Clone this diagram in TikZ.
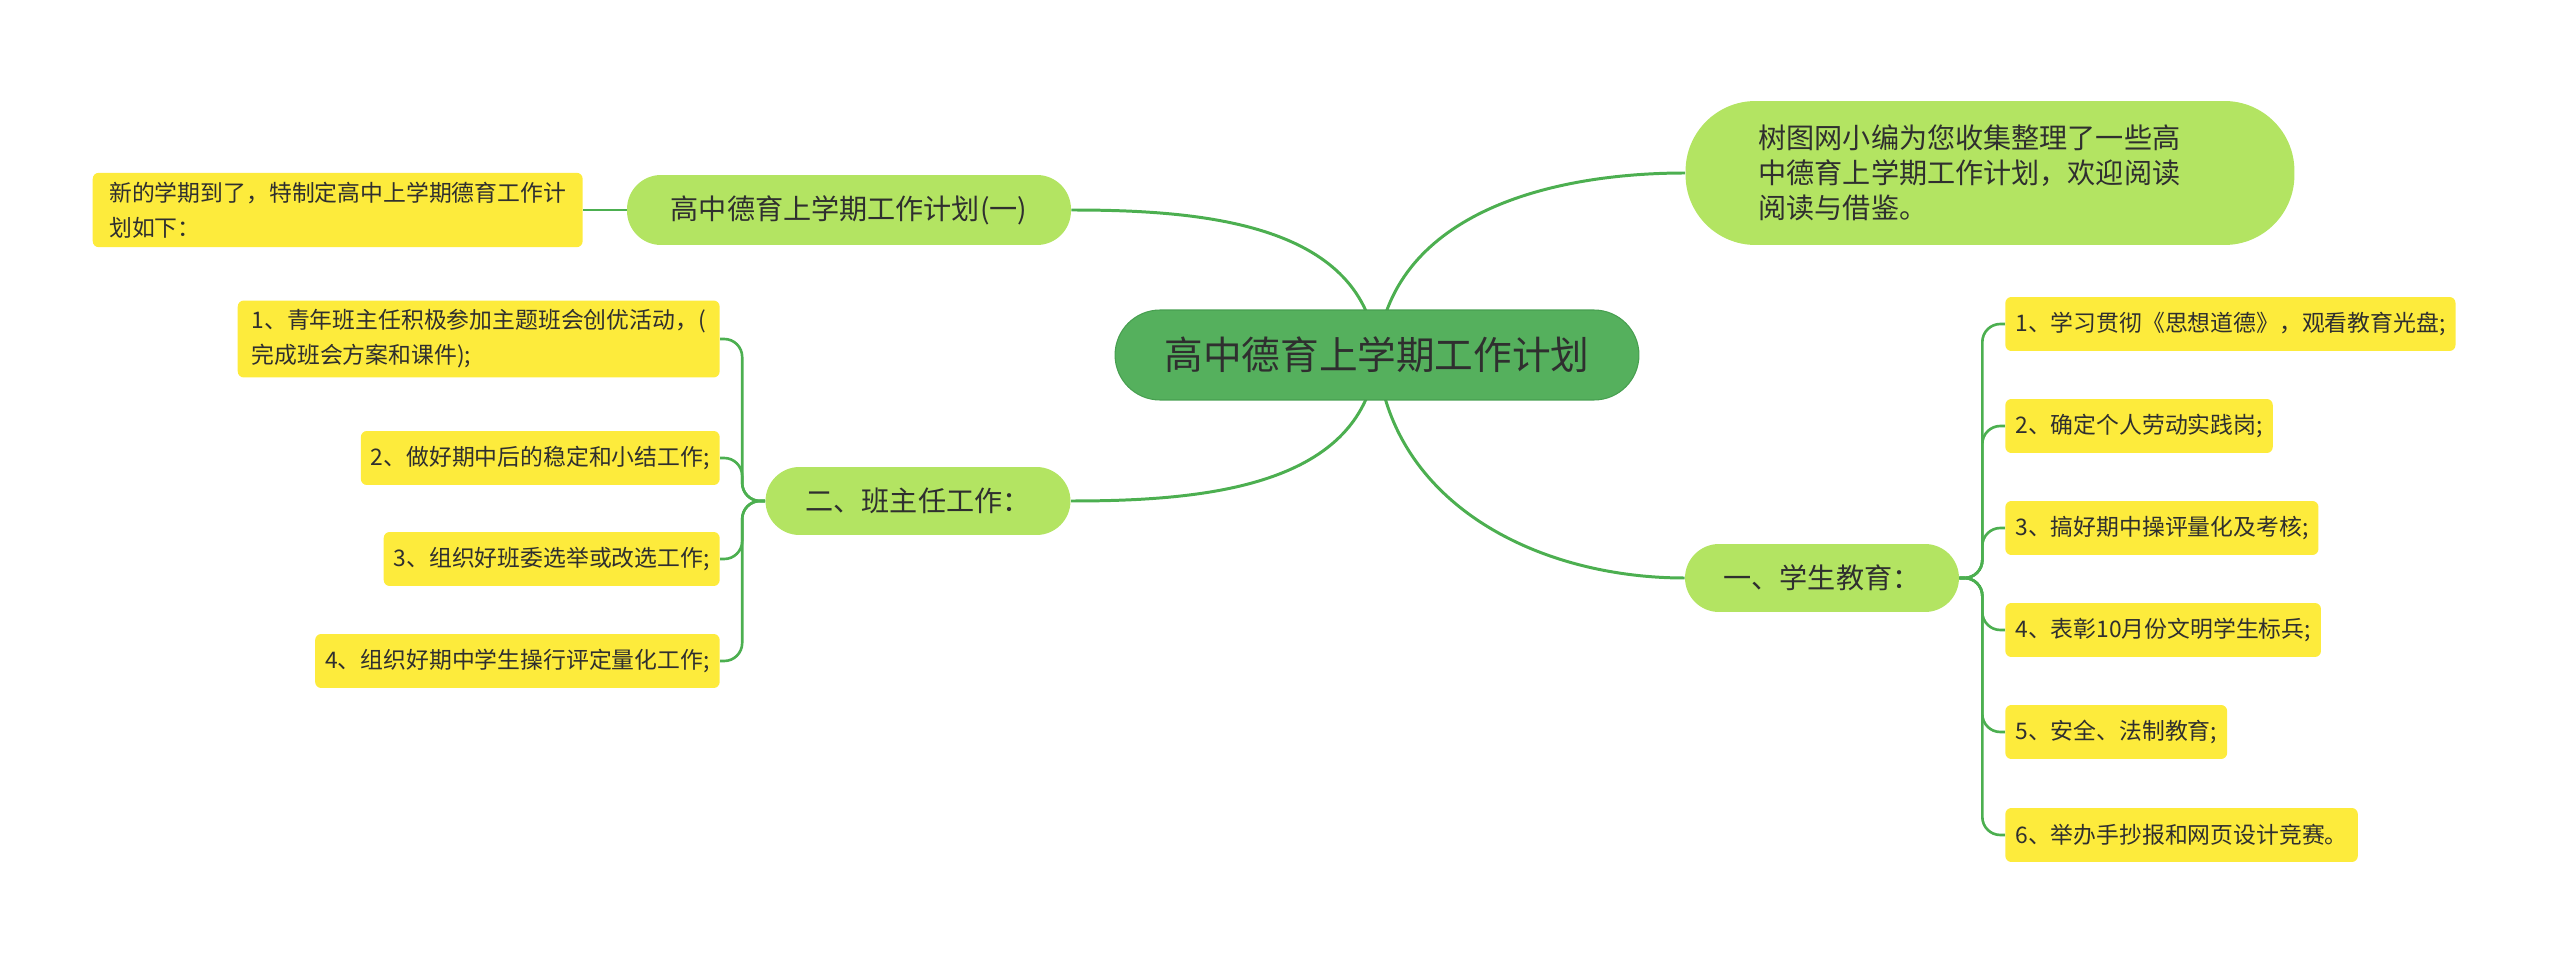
\documentclass[tikz,border=0pt]{standalone}
\usepackage{fontspec}
\setmainfont{Noto Sans CJK SC}
\usetikzlibrary{
  positioning,
  backgrounds
}
\definecolor{mmRoot}{HTML}{55B05D}
\definecolor{mmRootEdge}{HTML}{479F50}
\definecolor{mmMain}{HTML}{B3E462}
\definecolor{mmLeaf}{HTML}{FDEB3C}
\definecolor{mmLine}{HTML}{4CAF50}
\definecolor{mmText}{HTML}{2F2F2F}
\tikzset{
  mmnode/.style={text=mmText, inner sep=0pt, align=left},
  rootnode/.style={mmnode, fill=mmRoot, draw=mmRootEdge, line width=0.6pt,
    rounded corners=0.9cm, minimum height=1.8cm, minimum width=10.48cm,
    font=\fontsize{22}{26}\selectfont, align=center},
  mainnode/.style={mmnode, fill=mmMain, rounded corners=0.68cm,
    minimum height=1.36cm, font=\fontsize{16}{20}\selectfont, align=center},
  leafnode/.style={mmnode, fill=mmLeaf, rounded corners=0.12cm,
    minimum height=1.08cm, inner xsep=0.2cm, inner ysep=0.18cm,
    font=\fontsize{13}{20}\selectfont},
  link/.style={mmLine, line width=1.5pt, rounded corners=0.36cm},
  branchlink/.style={mmLine, line width=1.7pt}
}

\begin{document}
\begin{tikzpicture}[x=0.02cm, y=-0.02cm]
  \useasboundingbox (0,0) rectangle (2560,959);
  % centre and first level
  \node[rootnode] (root) at (1377,355) {高中德育上学期工作计划};
  \node[mainnode, minimum height=2.88cm, rounded corners=1.4cm,
    text width=9.26cm, inner xsep=1.46cm, align=left] (intro) at (1990,173)
    {树图网小编为您收集整理了一些高\\中德育上学期工作计划，欢迎阅读\\阅读与借鉴。};
  \node[mainnode, minimum width=8.88cm, minimum height=1.4cm] (plan) at (849,210) {高中德育上学期工作计划(一)};
  \node[mainnode, minimum width=6.1cm] (bzr) at (918,501) {二、班主任工作：};
  \node[mainnode, minimum width=5.48cm] (xs) at (1822,578) {一、学生教育：};
  % leaves, left
  \node[leafnode, anchor=east, minimum width=9.8cm] (intro1) at (583,210)
    {新的学期到了，特制定高中上学期德育工作计\\划如下：};
  \node[leafnode, anchor=east, minimum width=9.64cm] (b1) at (720,339)
    {1、青年班主任积极参加主题班会创优活动，(\\完成班会方案和课件);};
  \node[leafnode, anchor=east] (b2) at (720,458) {2、做好期中后的稳定和小结工作;};
  \node[leafnode, anchor=east] (b3) at (720,559) {3、组织好班委选举或改选工作;};
  \node[leafnode, anchor=east] (b4) at (720,661) {4、组织好期中学生操行评定量化工作;};
  % leaves, right
  \node[leafnode, anchor=west] (x1) at (2005,324) {1、学习贯彻《思想道德》，观看教育光盘;};
  \node[leafnode, anchor=west] (x2) at (2005,426) {2、确定个人劳动实践岗;};
  \node[leafnode, anchor=west] (x3) at (2005,528) {3、搞好期中操评量化及考核;};
  \node[leafnode, anchor=west] (x4) at (2005,630) {4、表彰10月份文明学生标兵;};
  \node[leafnode, anchor=west] (x5) at (2005,732) {5、安全、法制教育;};
  \node[leafnode, anchor=west] (x6) at (2005,835) {6、举办手抄报和网页设计竞赛。};
  % connectors
  \begin{scope}[on background layer]
    \draw[branchlink] (root.center) to[out=85, in=180] (intro.west);
    \draw[branchlink] (root.center) to[out=95, in=0] (plan.east);
    \draw[branchlink] (root.center) to[out=265, in=0] (bzr.east);
    \draw[branchlink] (root.center) to[out=275, in=180] (xs.west);
    \draw[link] (plan.west) -- (intro1.east);
    \foreach \n in {b1,b2,b3,b4}{\draw[link] (bzr.west) -- ([xshift=-0.46cm]bzr.west) |- (\n.east);}
    \foreach \n in {x1,x2,x3,x4,x5,x6}{\draw[link] (xs.east) -- ([xshift=0.46cm]xs.east) |- (\n.west);}
  \end{scope}
\end{tikzpicture}
\end{document}
